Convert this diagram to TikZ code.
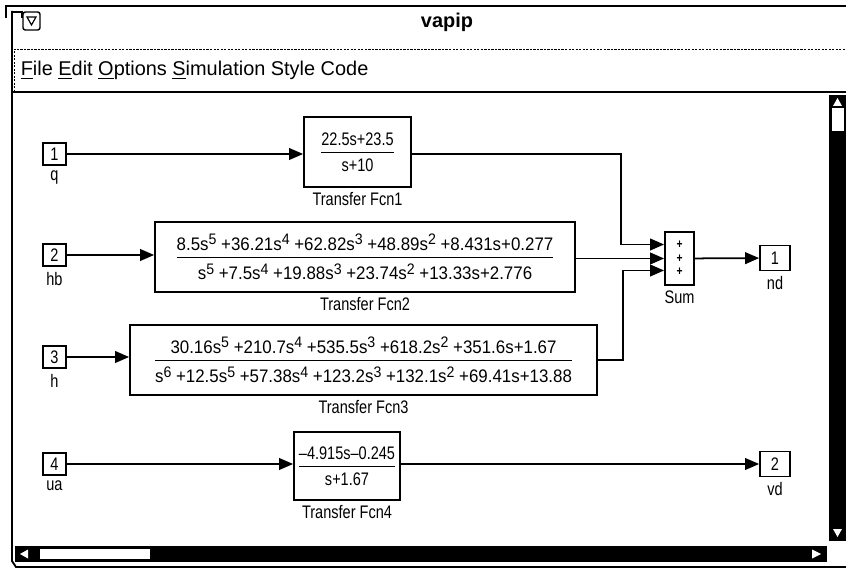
\documentclass[tikz,border=0pt]{standalone}
\usepackage{amsmath}
\usepackage{fontspec}
\setmainfont{Liberation Sans}[FakeStretch=0.8]
\newfontfamily\largo{Liberation Sans}[FakeStretch=0.93]
\newfontfamily\menufont{Liberation Sans}
\usetikzlibrary{arrows.meta,calc}

% frazione dei blocchi di trasferimento
\newcommand{\fdt}[2]{$\genfrac{}{}{1.4pt}{0}{\text{#1}}{\text{#2}}$}
\newcommand{\ap}[1]{\raisebox{0.62ex}{\fontsize{13}{13}\selectfont #1}}

\begin{document}
\begin{tikzpicture}[x=0.03cm,y=-0.03cm,line width=1.5pt,font=\fontsize{15.5}{18}\selectfont]
\tikzstyle{porta} = [draw, minimum width=0.69cm, minimum height=0.68cm, inner sep=0]
\tikzstyle{uscita} = [draw, minimum width=0.9cm, minimum height=0.75cm, inner sep=0]
\tikzstyle{blocco} = [draw, minimum height=2.1cm, inner sep=3pt]
\tikzstyle{filo} = [-{Triangle[length=12pt,width=10pt]}]

\useasboundingbox (0,0) rectangle (846,573);

% Cornice della finestra
\draw[line width=1.6pt] (6,18) -- (6,6) -- (846,6);
\draw[line width=1.6pt] (12,11) -- (12,561) -- (16,567) -- (846,567);
\draw[line width=1pt] (12,12) -- (22,12) -- (22,18);
\draw[line width=1.2pt, rounded corners=2pt] (23,12) rectangle (40,30);
\draw[line width=1pt] (27,17) -- (36,17) -- (31.5,25) -- cycle;
\node[font=\menufont\bfseries\fontsize{17}{19}\selectfont] (titolo) at (447,22) {vapip};

% Barra dei menu
\draw[line width=0.8pt, dash pattern=on 2pt off 1pt] (14,92) -- (14,49) -- (846,49);
\draw[line width=1.6pt] (12,92) -- (846,92);
\node[anchor=west, font=\menufont\fontsize{17}{19}\selectfont] (menu) at (16,70)
  {\underline{F}ile \underline{E}dit \underline{O}ptions \underline{S}imulation Style Code};

% Barre di scorrimento
\fill (829,95) rectangle (846,541);
\fill[white] (832,108) rectangle (844,131);
\fill[white] (837.5,98) -- (833,106) -- (842,106) -- cycle;
\fill[white] (833,529) -- (842,529) -- (837.5,537) -- cycle;
\fill (15,546) rectangle (827,562);
\fill[white] (40,549) rectangle (150,559);
\fill[white] (20,554) -- (28,549.5) -- (28,558.5) -- cycle;
\fill[white] (812,549.5) -- (812,558.5) -- (821,554) -- cycle;

% Ingressi
\node[porta, label={[label distance=0pt]below:q}] (in1) at (54.5,154) {1};
\node[porta, label={[label distance=0pt]below:hb}] (in2) at (54.5,255) {2};
\node[porta, label={[label distance=0pt]below:h}] (in3) at (54.5,357) {3};
\node[porta, label={[label distance=0pt]below:ua}] (in4) at (54.5,464) {4};

% Blocchi
\node[blocco, minimum width=3.21cm, label={below:Transfer Fcn1}] (tf1) at (357.5,152)
  {\fdt{22.5s+23.5}{s+10}};
\node[blocco, minimum width=12.6cm, label={below:Transfer Fcn2}] (tf2) at (365,257)
  {\largo\fdt{8.5s\ap{5} +36.21s\ap{4} +62.82s\ap{3} +48.89s\ap{2} +8.431s+0.277}{s\ap{5} +7.5s\ap{4} +19.88s\ap{3} +23.74s\ap{2} +13.33s+2.776}};
\node[blocco, minimum width=14.01cm, label={below:Transfer Fcn3}] (tf3) at (363.5,360)
  {\largo\fdt{30.16s\ap{5} +210.7s\ap{4} +535.5s\ap{3} +618.2s\ap{2} +351.6s+1.67}{s\ap{6} +12.5s\ap{5} +57.38s\ap{4} +123.2s\ap{3} +132.1s\ap{2} +69.41s+13.88}};
\node[blocco, minimum width=3.18cm, minimum height=2.04cm, label={below:Transfer Fcn4}] (tf4) at (347,466)
  {\fdt{\textendash4.915s\textendash0.245}{s+1.67}};

% Sommatore
\node[draw, minimum width=0.87cm, minimum height=1.59cm, label={below:Sum}] (sum) at (679.5,258.5) {};
\foreach \k in {-1,0,1}
  \node[font=\bfseries\fontsize{11}{11}\selectfont] at ($(sum)+(0,13.5*\k)$) {+};
\coordinate (p1) at ($(sum.west)+(0,-14)$);
\coordinate (p2) at (sum.west);
\coordinate (p3) at ($(sum.west)+(0,12)$);

% Uscite
\node[uscita, label={below:nd}] (out1) at (775,258) {1};
\node[uscita, label={below:vd}] (out2) at (775,464) {2};

% Collegamenti
\draw[filo] (in1) -- (in1 -| tf1.west);
\draw[filo] (in2) -- (in2 -| tf2.west);
\draw[filo] (in3) -- (in3 -| tf3.west);
\draw[filo] (in4) -- (in4 -| tf4.west);
\draw[filo] (tf1.east |- in1) -| ($(p1)+(-43,0)$) -- (p1);
\draw[filo] (tf2.east |- p2) -- (p2);
\draw[filo] (tf3.east) -| ($(p3)+(-41,0)$) -- (p3);
\draw[filo] (sum) -- (out1);
\draw[filo] (tf4.east |- out2) -- (out2);

\end{tikzpicture}
\end{document}
